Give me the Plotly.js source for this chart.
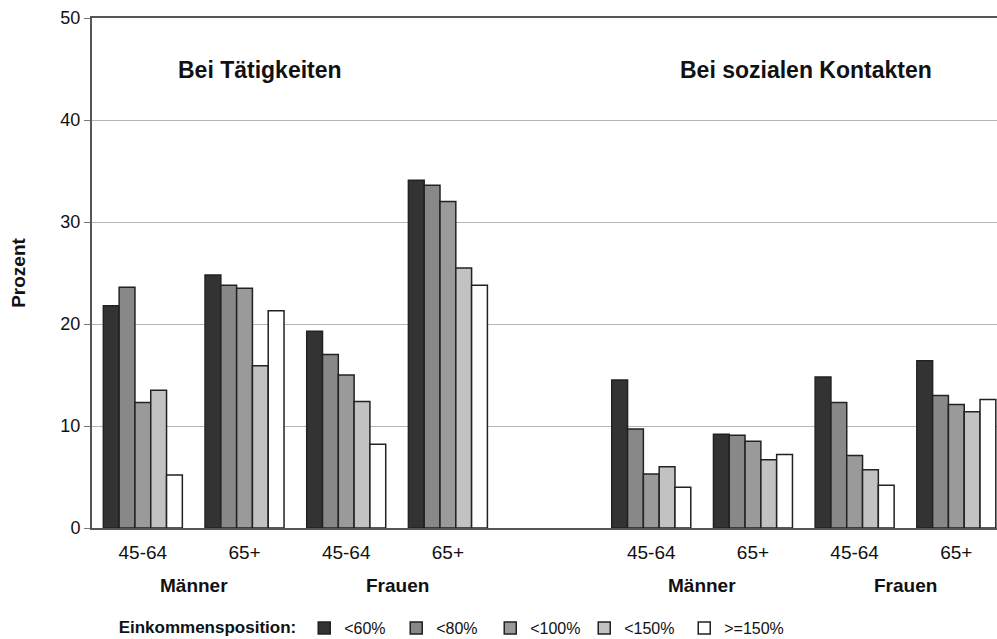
<!DOCTYPE html>
<html>
<head>
<meta charset="utf-8">
<script src="https://cdn.plot.ly/plotly-3.0.1.min.js"></script>
<style>html,body{margin:0;padding:0;background:#fff;}#chart{width:997px;height:639px;}</style>
</head>
<body>
<div id="chart"></div>
<script>
// Category slots (index 4 is the empty gap between the two panels)
const ageLabels = ["45-64", "65+", "45-64", "65+", "", "45-64", "65+", "45-64", "65+"];
const barSlots = [0, 1, 2, 3, 5, 6, 7, 8];
const sexLabels = ["Männer", "Frauen", "Männer", "Frauen"];
const sexSlots = [0.5, 2.5, 5.5, 7.5];
const panelTitles = ["Bei Tätigkeiten", "Bei sozialen Kontakten"];
const panelSlots = [1.15, 6.52];

const seriesNames = ["<60%", "<80%", "<100%", "<150%", ">=150%"];
const lt60  = [21.8, 24.8, 19.3, 34.1, 14.5, 9.2, 14.8, 16.4];
const lt80  = [23.6, 23.8, 17.0, 33.6,  9.7, 9.1, 12.3, 13.0];
const lt100 = [12.3, 23.5, 15.0, 32.0,  5.3, 8.5,  7.1, 12.1];
const lt150 = [13.5, 15.9, 12.4, 25.5,  6.0, 6.7,  5.7, 11.4];
const ge150 = [ 5.2, 21.3,  8.2, 23.8,  4.0, 7.2,  4.2, 12.6];
const seriesValues = [lt60, lt80, lt100, lt150, ge150];

// styling
const seriesColors = ["#333333", "#888888", "#9a9a9a", "#c2c2c2", "#ffffff"];
const legendWidths = [47, 49, 49, 55, 64];

const FONT = "Liberation Sans, Arial, sans-serif";

const traces = seriesValues.map((vals, i) => ({
  type: "bar",
  name: seriesNames[i],
  x: barSlots,
  y: vals,
  legendwidth: legendWidths[i],
  marker: { color: seriesColors[i], line: { color: "#222222", width: 1.5 } },
  hoverinfo: "skip"
}));

const annotations = [];
sexLabels.forEach((t, i) => annotations.push({
  text: t, x: sexSlots[i], xref: "x", y: -0.112, yref: "paper",
  showarrow: false, xanchor: "center", yanchor: "middle",
  font: { family: FONT, size: 19, color: "#111", weight: "bold" }
}));
panelTitles.forEach((t, i) => annotations.push({
  text: t, x: panelSlots[i], xref: "x", y: 44.9, yref: "y",
  showarrow: false, xanchor: "center", yanchor: "middle",
  font: { family: FONT, size: 23, color: "#111", weight: "bold" }
}));

const layout = {
  width: 997, height: 639,
  margin: { l: 92, r: 0, t: 18, b: 111 },
  paper_bgcolor: "#fff", plot_bgcolor: "#fff",
  font: { family: FONT, color: "#111" },
  barmode: "group", bargap: 0.223, bargroupgap: 0,
  showlegend: true,
  legend: {
    orientation: "h", xref: "container", yref: "container",
    x: 0.117, y: 0.0172, xanchor: "left", yanchor: "middle",
    font: { family: FONT, size: 16, color: "#111" },
    title: { text: "Einkommensposition:", side: "left", font: { family: FONT, size: 17, color: "#111", weight: "bold" } },
    bgcolor: "rgba(0,0,0,0)", borderwidth: 0
  },
  xaxis: {
    range: [-0.5, 8.4],
    tickmode: "array",
    tickvals: ageLabels.map((_, i) => i),
    ticktext: ageLabels,
    ticks: "", showgrid: false, zeroline: false,
    showline: true, linecolor: "#555", linewidth: 2, mirror: true,
    tickfont: { family: FONT, size: 19, color: "#111" },
    ticklabelstandoff: 6,
    fixedrange: true
  },
  yaxis: {
    range: [0, 50],
    tickvals: [0, 10, 20, 30, 40, 50],
    ticks: "outside", ticklen: 6, tickcolor: "#777", tickwidth: 1,
    showgrid: true, gridcolor: "#b5b5b5", gridwidth: 1,
    zeroline: false, showline: true, linecolor: "#555", linewidth: 2,
    tickfont: { family: FONT, size: 18, color: "#111" },
    title: { text: "Prozent", font: { family: FONT, size: 19, color: "#111", weight: "bold" }, standoff: 30 },
    fixedrange: true
  },
  annotations: annotations
};

Plotly.newPlot("chart", traces, layout, { staticPlot: true, displayModeBar: false });
</script>
</body>
</html>
